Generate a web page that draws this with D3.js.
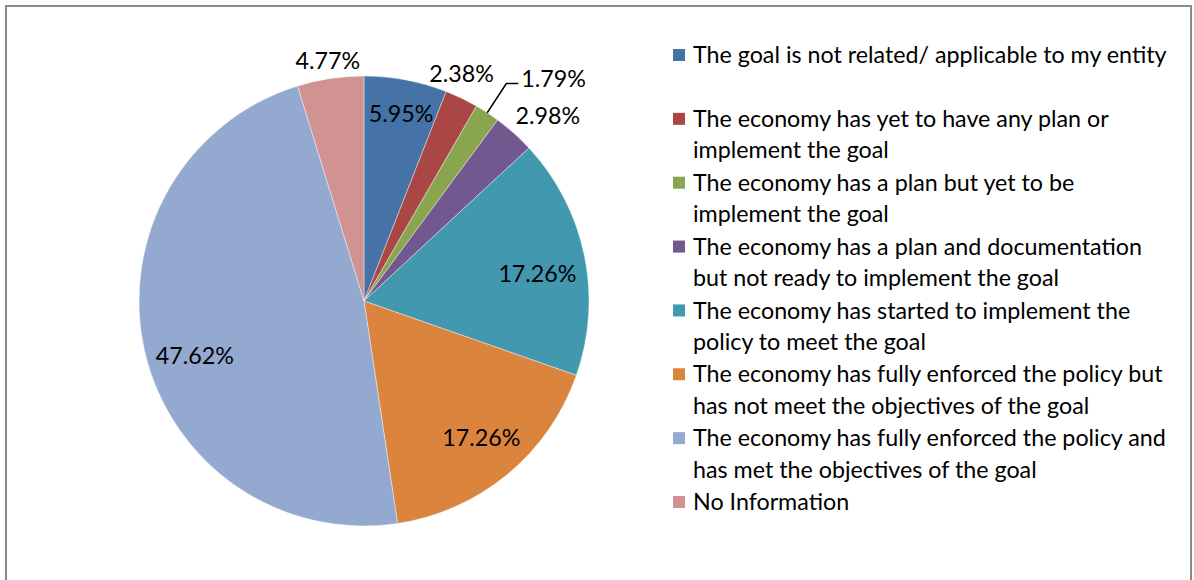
<!DOCTYPE html>
<html>
<head>
<meta charset="utf-8">
<script src="https://cdn.jsdelivr.net/npm/d3@7"></script>
<style>
  body { margin: 0; background: #fff; }
  svg { display: block; font-family: Lato, "Open Sans", sans-serif; }
</style>
</head>
<body>
<svg id="chart"></svg>
<script>
const width = 1194;
const height = 580;

// data (percent)
const categories = [
  ["The goal is not related/ applicable to my entity"],
  ["The economy has yet to have any plan or", "implement the goal"],
  ["The economy has a plan but yet to be", "implement the goal"],
  ["The economy has a plan and documentation", "but not ready to implement the goal"],
  ["The economy has started to implement the", "policy to meet the goal"],
  ["The economy has fully enforced the policy but", "has not meet the objectives of the goal"],
  ["The economy has fully enforced the policy and", "has met the objectives of the goal"],
  ["No Information"]
];
const values = [5.95, 2.38, 1.79, 2.98, 17.26, 17.26, 47.62, 4.77];
const colors = ["#4572A7", "#AA4643", "#89A54E", "#71588F", "#4198AF", "#DB843D", "#93A9CF", "#D19392"];

// label placement: radius factor and angle shift (degrees), leader line flag
const labelPlace = [
  {k: 0.85, da: 0.5},
  {k: 1.10, da: -2.5},
  {k: 1.29, da: 7, leader: true},
  {k: 1.16, da: 3},
  {k: 0.78, da: 3},
  {k: 0.80, da: -1},
  {k: 0.79, da: -5},
  {k: 1.08, da: 0}
];

const svg = d3.select("#chart")
              .attr("width", width)
              .attr("height", height);

// chart frame
svg.append("rect")
   .attr("x", 6)
   .attr("y", 6)
   .attr("width", 1185)
   .attr("height", 620)
   .attr("fill", "none")
   .attr("stroke", "#8a8a8a")
   .attr("stroke-width", 2);

// fit font size so the first legend line has the reference width
let fontSize = 21;
const probe = svg.append("text").style("font-size", fontSize + "px").text(categories[0][0]);
fontSize = fontSize * 474 / probe.node().getComputedTextLength();
probe.remove();

const cx = 364, cy = 301, radius = 225;
const g = svg.append("g").attr("transform", "translate(" + cx + "," + cy + ")");

const pie = d3.pie().sort(null).value(d => d);
const arcs = pie(values);
const arc = d3.arc().innerRadius(0).outerRadius(radius);

g.selectAll("path")
 .data(arcs)
 .enter()
 .append("path")
 .attr("d", arc)
 .attr("fill", (d, i) => colors[i])
 .attr("stroke", "#ffffff")
 .attr("stroke-width", 0.4);

const polar = (r, a) => [r * Math.sin(a), -r * Math.cos(a)];

arcs.forEach(function(d, i) {
  const p = labelPlace[i];
  const mid = (d.startAngle + d.endAngle) / 2;
  if (p.leader) {
    const a = polar(radius, mid);
    const b = polar(radius * 1.155, mid);
    g.append("polyline")
     .attr("points", [a, b, [b[0] + 12, b[1]]].map(q => q.join(",")).join(" "))
     .attr("fill", "none")
     .attr("stroke", "#000")
     .attr("stroke-width", 1.5);
    g.append("text")
     .attr("x", b[0] + 15)
     .attr("y", b[1] - 5)
     .attr("dy", "0.35em")
     .style("font-size", fontSize + "px")
     .text(d.data.toFixed(2) + "%");
    return;
  }
  const pos = polar(radius * p.k, mid + p.da * Math.PI / 180);
  g.append("text")
   .attr("x", pos[0])
   .attr("y", pos[1])
   .attr("dy", "0.35em")
   .attr("text-anchor", "middle")
   .style("font-size", fontSize + "px")
   .text(d.data.toFixed(2) + "%");
});

// legend
const legendY = d3.scalePoint()
                  .domain(d3.range(categories.length))
                  .range([55, 502]);
const lineHeight = 31.5;

const legend = svg.append("g")
                  .selectAll("g")
                  .data(categories)
                  .enter()
                  .append("g")
                  .attr("transform", (d, i) => "translate(673," + legendY(i) + ")");

legend.append("rect")
      .attr("x", 0)
      .attr("y", -6)
      .attr("width", 12)
      .attr("height", 12)
      .attr("fill", (d, i) => colors[i]);

legend.append("text")
      .style("font-size", fontSize + "px")
      .attr("fill", "#000")
      .selectAll("tspan")
      .data(d => d)
      .enter()
      .append("tspan")
      .attr("x", 20)
      .attr("y", (d, j) => j * lineHeight)
      .attr("dy", "0.35em")
      .text(d => d);
</script>
</body>
</html>
